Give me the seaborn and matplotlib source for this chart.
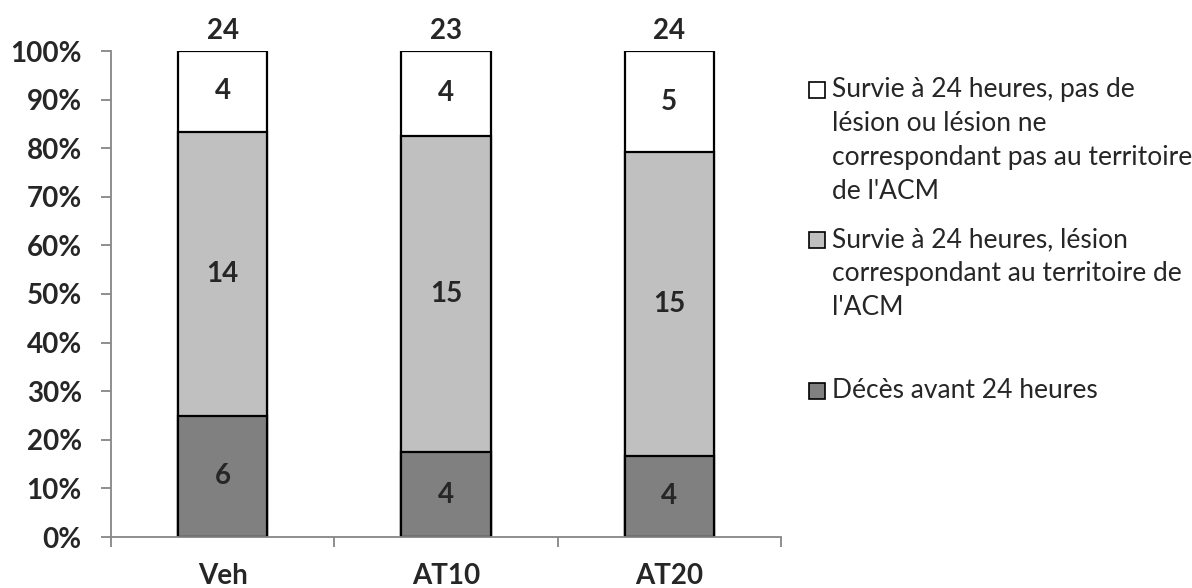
import seaborn as sns
import matplotlib.pyplot as plt
import matplotlib
from matplotlib.patches import Rectangle
import numpy as np

sns.set_style("ticks")
matplotlib.rcParams["font.family"] = ["Lato", "DejaVu Sans"]

# donnees (nombre d'animaux par groupe)
groups = ["Veh", "AT10", "AT20"]
deces = [6, 4, 4]
lesion_acm = [14, 15, 15]
sans_lesion = [4, 4, 5]

legend_labels = [
    "Survie à 24 heures, pas de\nlésion ou lésion ne\ncorrespondant pas au territoire\nde l'ACM",
    "Survie à 24 heures, lésion\ncorrespondant au territoire de\nl'ACM",
    "Décès avant 24 heures",
]
colors = ["white", "#c0c0c0", "#808080"]

deces = np.array(deces)
lesion_acm = np.array(lesion_acm)
sans_lesion = np.array(sans_lesion)
totals = deces + lesion_acm + sans_lesion

# pourcentages cumules pour empiler
p_deces = deces / totals * 100
p_lesion = lesion_acm / totals * 100
p_sans = sans_lesion / totals * 100
cum1 = p_deces
cum2 = p_deces + p_lesion
cum3 = cum2 + p_sans

fig = plt.figure(figsize=(11.92, 5.88), dpi=100)
ax = fig.add_axes([111 / 1192, 51 / 588, 670 / 1192, 486 / 588])

for cum, col in zip([cum3, cum2, cum1], colors):
    sns.barplot(x=groups, y=cum, color=col, edgecolor="black", linewidth=1.6,
                width=0.4, saturation=1, ax=ax)

# etiquettes des segments
for i in range(len(groups)):
    segs = [(0, cum1[i], deces[i]), (cum1[i], cum2[i], lesion_acm[i]),
            (cum2[i], cum3[i], sans_lesion[i])]
    for lo, hi, n in segs:
        ax.text(i, (lo + hi) / 2, str(n), ha="center", va="center",
                fontsize=20, fontweight="bold")
    ax.annotate(str(totals[i]), (i, 100), xytext=(0, 5), textcoords="offset points",
                ha="center", va="bottom", fontsize=20, fontweight="bold")

ax.set_ylim(0, 100)
ax.set_yticks(range(0, 101, 10))
ax.set_yticklabels([f"{v}%" for v in range(0, 101, 10)], fontsize=20, fontweight="bold")
ax.set_xlim(-0.5, 2.5)
ax.set_xticks([-0.5, 0.5, 1.5, 2.5])
ax.set_xticklabels([])
ax.set_xticks([0, 1, 2], minor=True)
ax.set_xticklabels(groups, minor=True, fontsize=20, fontweight="bold")
ax.set_xlabel("")
ax.set_ylabel("")

for side in ["top", "right"]:
    ax.spines[side].set_visible(False)
for side in ["left", "bottom"]:
    ax.spines[side].set_color("#868686")
    ax.spines[side].set_linewidth(1.3)
ax.tick_params(axis="y", length=7, width=1.3, color="#868686", pad=14)
ax.tick_params(axis="x", which="major", length=7, width=1.3, color="#868686")
ax.tick_params(axis="x", which="minor", length=0, pad=19)

# legende style Excel (carre aligne sur la premiere ligne)
leg_y = [90, 240, 391]
for lab, col, y in zip(legend_labels, colors, leg_y):
    fig.add_artist(Rectangle((809 / 1192, (588 - y - 8) / 588), 16 / 1192, 16 / 588,
                             facecolor=col, edgecolor="black", linewidth=1.2,
                             transform=fig.transFigure))
    fig.text(832 / 1192, (588 - y + 13) / 588, lab, ha="left", va="top",
             fontsize=19, linespacing=1.45)

fig.savefig("out.png", dpi=100)
